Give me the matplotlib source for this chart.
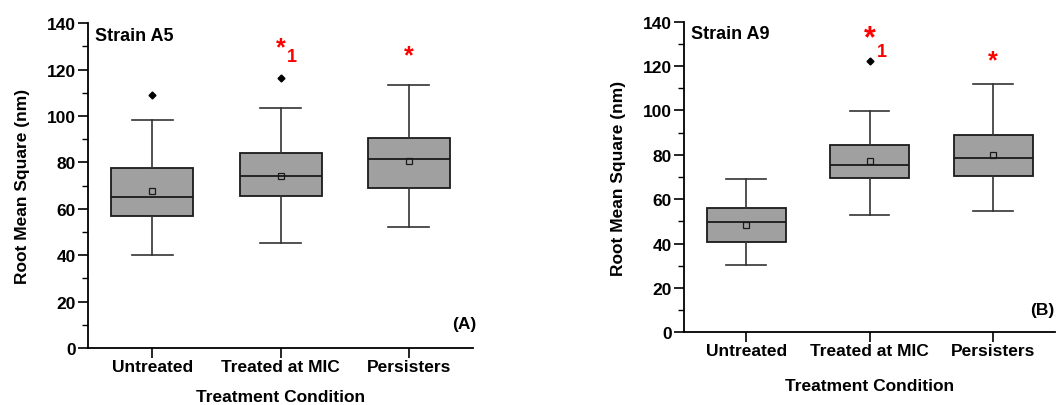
import matplotlib.pyplot as plt
from matplotlib.ticker import MultipleLocator

plt.rcParams["font.family"] = ["Liberation Sans", "DejaVu Sans"]
plt.rcParams["font.weight"] = "bold"

categories = ["Untreated", "Treated at MIC", "Persisters"]

# Strain A5 box statistics
a5_q1 = [57.1, 65.5, 68.9]
a5_med = [65.0, 74.1, 81.6]
a5_q3 = [77.7, 84.2, 90.4]
a5_whislo = [39.9, 45.3, 52.2]
a5_whishi = [98.1, 103.3, 113.2]
a5_mean = [67.5, 74.1, 80.6]
a5_fliers = [[108.9], [116.4], []]

# Strain A9 box statistics
a9_q1 = [40.6, 69.5, 70.3]
a9_med = [49.6, 75.3, 78.7]
a9_q3 = [55.9, 84.6, 88.9]
a9_whislo = [30.3, 52.9, 54.5]
a9_whishi = [69.1, 99.9, 112.1]
a9_mean = [48.4, 77.1, 79.9]
a9_fliers = [[], [122.3], []]

panels = [
    ("Strain A5", "(A)", a5_q1, a5_med, a5_q3, a5_whislo, a5_whishi, a5_mean, a5_fliers),
    ("Strain A9", "(B)", a9_q1, a9_med, a9_q3, a9_whislo, a9_whishi, a9_mean, a9_fliers),
]

fig = plt.figure(figsize=(10.56, 4.06), dpi=100)
W, H = 1056, 406
ax_a = fig.add_axes([88.3 / W, 1 - 349 / H, 384.7 / W, 324.7 / H])
ax_b = fig.add_axes([684.3 / W, 1 - 333.3 / H, 370.7 / W, 310.6 / H])

for ax, (strain, tag, q1, med, q3, lo, hi, mean, fliers) in zip([ax_a, ax_b], panels):
    stats = []
    for i in range(len(categories)):
        stats.append({
            "label": categories[i], "q1": q1[i], "med": med[i], "q3": q3[i],
            "whislo": lo[i], "whishi": hi[i], "mean": mean[i], "fliers": fliers[i],
        })
    ax.bxp(
        stats,
        positions=[1, 2, 3],
        widths=0.64,
        capwidths=0.32,
        patch_artist=True,
        showmeans=True,
        boxprops=dict(facecolor="#a0a0a0", edgecolor="#1a1a1a", linewidth=1.3),
        medianprops=dict(color="#1a1a1a", linewidth=1.3),
        whiskerprops=dict(color="#333333", linewidth=1.2),
        capprops=dict(color="#333333", linewidth=1.2),
        meanprops=dict(marker="s", markersize=4, markerfacecolor="none",
                       markeredgecolor="#1a1a1a", markeredgewidth=0.9),
        flierprops=dict(marker="D", markersize=3.5, markerfacecolor="black",
                        markeredgecolor="black"),
    )
    ax.set_xlim(0.5, 3.5)
    ax.set_ylim(0, 140)
    ax.yaxis.set_major_locator(MultipleLocator(20))
    ax.yaxis.set_minor_locator(MultipleLocator(10))
    ax.spines["top"].set_visible(False)
    ax.spines["right"].set_visible(False)
    for s in ["left", "bottom"]:
        ax.spines[s].set_linewidth(1.3)
    ax.tick_params(axis="both", which="major", direction="out", length=7, width=1.2,
                   labelsize=12.5)
    ax.tick_params(axis="y", which="minor", direction="out", length=4, width=1.0)
    ax.tick_params(axis="x", which="major", pad=1)
    ax.tick_params(axis="y", which="major", pad=2)
    ax.set_xticks([1, 2, 3])
    ax.set_xticklabels(categories, fontsize=12.5, fontweight="bold")
    for lbl in ax.get_yticklabels():
        lbl.set_fontweight("bold")
    ax.set_ylabel("Root Mean Square (nm)", fontsize=12.5, fontweight="bold", labelpad=12)
    ax.text(0.017, 0.99, strain, transform=ax.transAxes, ha="left", va="top",
            fontsize=13, fontweight="bold")
    ax.text(0.997, 0.075, tag, transform=ax.transAxes, ha="right", va="center",
            fontsize=12.5, fontweight="bold")

ax_a.set_xlabel("Treatment Condition", fontsize=12.5, fontweight="bold", labelpad=11)
ax_b.set_xlabel("Treatment Condition", fontsize=12.5, fontweight="bold", labelpad=14)
ax_a.texts[-1].set_x(1.01)

# significance marks
ax_a.text(2, 129.7, "*", color="red", fontsize=18, fontweight="bold", ha="center", va="center")
ax_a.text(2.09, 125.5, "1", color="red", fontsize=13, fontweight="bold", ha="center", va="center")
ax_a.text(3, 126, "*", color="red", fontsize=18, fontweight="bold", ha="center", va="center")
ax_b.text(2, 132.5, "*", color="red", fontsize=22, fontweight="bold", ha="center", va="center")
ax_b.text(2.1, 126.5, "1", color="red", fontsize=13, fontweight="bold", ha="center", va="center")
ax_b.text(3, 122.5, "*", color="red", fontsize=18, fontweight="bold", ha="center", va="center")

fig.savefig("out.png", dpi=100)
